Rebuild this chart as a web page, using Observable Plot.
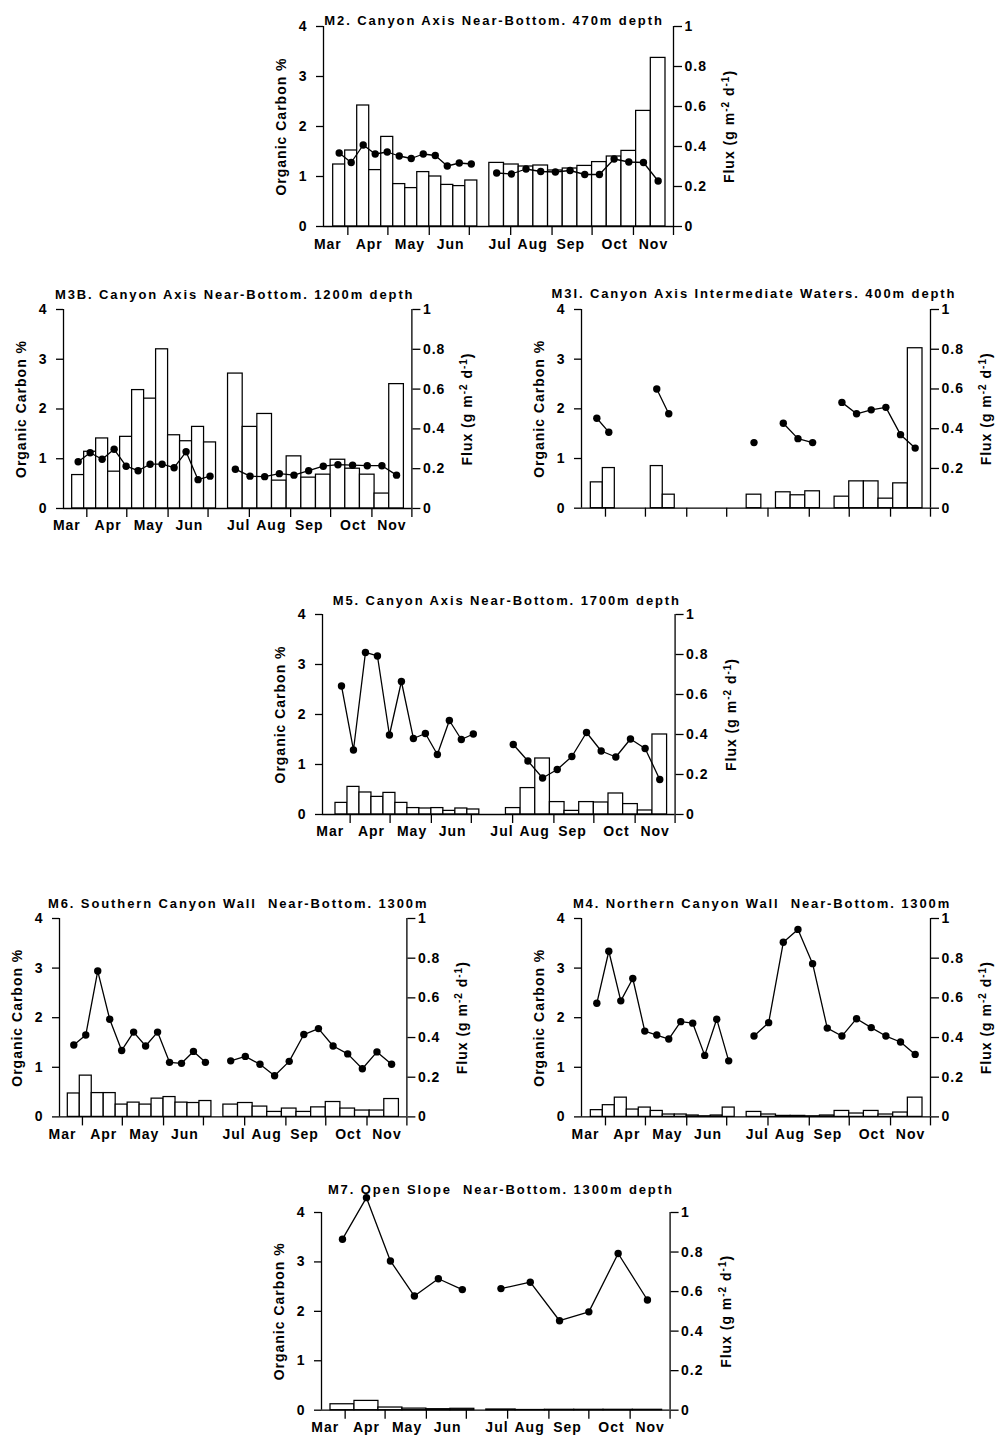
<!DOCTYPE html>
<html>
<head>
<meta charset="utf-8">
<script src="https://cdn.jsdelivr.net/npm/d3@7"></script>
<script src="https://cdn.jsdelivr.net/npm/@observablehq/plot@0.6"></script>
<style>
  body { margin: 0; background: #fff; }
  #wrap { position: relative; width: 996px; height: 1446px; overflow: hidden; background: #fff; }
  #wrap svg { position: absolute; }
</style>
</head>
<body>
<div id="wrap"></div>
<script>
// ---------- shared axis definitions ----------
const RATIO = 4;                       // Organic Carbon % axis max / Flux axis max
const ocTicks = [0, 1, 2, 3, 4];
const fluxTicks = [0, 0.2, 0.4, 0.6, 0.8, 1];
const monthStarts = [91, 121, 152, 182, 213, 244, 274, 305, 335];        // Julian day, Apr 1 .. Dec 1
const monthLabelDays = [76, 107, 137.5, 168, 205, 229.5, 258, 291, 320];  // where the month names sit (Julian day)
const monthNames = ["Mar", "Apr", "May", "Jun", "Jul", "Aug", "Sep", "Oct", "Nov"];
const leftLabel = "Organic Carbon %";
const fluxLabelParts = [["Flux (g m", false], ["-2", true], [" d", false], ["-1", true], [")", false]];

// ---------- sediment-trap cup schedules (Julian day) ----------
const cupStart = [80, 89, 98, 107, 116, 125, 134, 143, 152, 161, 170, 179,
                  197, 208, 219, 230, 241, 252, 263, 274, 285, 296, 307, 318];
const cupEnd   = [89, 98, 107, 116, 125, 134, 143, 152, 161, 170, 179, 188,
                  208, 219, 230, 241, 252, 263, 274, 285, 296, 307, 318, 329];
const cupStartM7 = [80, 98, 116, 134, 152, 170, 197, 219, 241, 263, 285, 307];
const cupEndM7   = [98, 116, 134, 152, 170, 188, 219, 241, 263, 285, 307, 329];

// ---------- M2 ----------
const fluxM2 = [0.31, 0.38, 0.605, 0.282, 0.448, 0.212, 0.192, 0.272, 0.25, 0.208, 0.202, 0.23,
                0.318, 0.31, 0.3, 0.305, 0.28, 0.29, 0.303, 0.322, 0.35, 0.378, 0.578, 0.843];
const ocM2 = [1.47, 1.28, 1.63, 1.45, 1.49, 1.41, 1.36, 1.45, 1.42, 1.21, 1.27, 1.25,
              1.07, 1.05, 1.15, 1.1, 1.09, 1.12, 1.04, 1.04, 1.35, 1.29, 1.28, 0.91];
// ---------- M3B ----------
const fluxM3B = [0.168, 0.285, 0.352, 0.185, 0.36, 0.595, 0.552, 0.8, 0.368, 0.338, 0.41, 0.332,
                 0.678, 0.41, 0.475, 0.14, 0.262, 0.155, 0.17, 0.245, 0.2, 0.17, 0.075, 0.625];
const ocM3B = [0.94, 1.12, 0.99, 1.19, 0.85, 0.76, 0.89, 0.89, 0.82, 1.14, 0.58, 0.65,
               0.79, 0.65, 0.64, 0.7, 0.67, 0.76, 0.85, 0.88, 0.87, 0.86, 0.86, 0.67];
// ---------- M3I ----------
const fluxM3I = [0.13, 0.202, null, null, null, 0.212, 0.068, null, null, null, null, null,
                 0.068, null, 0.08, 0.065, 0.085, null, 0.058, 0.135, 0.135, 0.048, 0.125, 0.805];
const ocM3I = [1.81, 1.53, null, null, null, 2.4, 1.9, null, null, null, null, null,
               1.32, null, 1.71, 1.4, 1.32, null, 2.13, 1.9, 1.98, 2.03, 1.48, 1.21];
// ---------- M5 ----------
const fluxM5 = [0.058, 0.138, 0.11, 0.088, 0.108, 0.058, 0.032, 0.03, 0.032, 0.018, 0.03, 0.025,
                null, 0.032, 0.132, 0.28, 0.062, 0.018, 0.062, 0.06, 0.105, 0.052, 0.02, 0.4];
const ocM5 = [2.57, 1.29, 3.24, 3.17, 1.59, 2.66, 1.52, 1.62, 1.2, 1.88, 1.5, 1.61,
              null, 1.4, 1.07, 0.73, 0.9, 1.16, 1.64, 1.27, 1.15, 1.51, 1.32, 0.7];
// ---------- M6 ----------
const fluxM6 = [0.118, 0.208, 0.12, 0.12, 0.062, 0.072, 0.062, 0.092, 0.1, 0.072, 0.07, 0.08,
                0.062, 0.07, 0.052, 0.025, 0.042, 0.025, 0.048, 0.075, 0.042, 0.032, 0.032, 0.09];
const ocM6 = [1.45, 1.65, 2.94, 1.97, 1.34, 1.71, 1.43, 1.71, 1.1, 1.08, 1.32, 1.1,
              1.13, 1.22, 1.06, 0.83, 1.12, 1.66, 1.78, 1.43, 1.27, 0.97, 1.31, 1.06];
// ---------- M4 ----------
const fluxM4 = [0.034, 0.059, 0.097, 0.037, 0.047, 0.03, 0.012, 0.012, 0.007, 0.003, 0.007, 0.047,
                0.025, 0.012, 0.005, 0.005, 0.003, 0.007, 0.03, 0.017, 0.03, 0.012, 0.022, 0.097];
const ocM4 = [2.29, 3.34, 2.34, 2.79, 1.73, 1.65, 1.57, 1.92, 1.89, 1.24, 1.97, 1.13,
              1.63, 1.9, 3.52, 3.78, 3.09, 1.79, 1.63, 1.98, 1.8, 1.63, 1.51, 1.26];
// ---------- M7 ----------
const fluxM7 = [0.03, 0.047, 0.0135, 0.008, 0.005, 0.007, 0.0035, 0.001, 0.002, 0.002, 0.002, 0.002];
const ocM7 = [3.46, 4.30, 3.02, 2.31, 2.66, 2.44, 2.46, 2.59, 1.81, 1.99, 3.17, 2.23];

// ---------- panel layout ----------
const panels = [
  {title: "M2. Canyon Axis Near-Bottom. 470m depth", L: 323.3, R: 673.3, T: 26, B: 226, x0: 72.75,
   tdy: 10.5, tdx: -4.5, months: true, start: cupStart, end: cupEnd, flux: fluxM2, oc: ocM2},
  {title: "M3B. Canyon Axis Near-Bottom. 1200m depth", L: 63.3, R: 411.7, T: 309.3, B: 508.3, x0: 73.5,
   tdy: 20, tdx: -3, months: true, start: cupStart, end: cupEnd, flux: fluxM3B, oc: ocM3B},
  {title: "M3I. Canyon Axis Intermediate Waters. 400m depth", L: 581, R: 930, T: 309, B: 507.7, x0: 73,
   tdy: 21, tdx: -2, months: false, start: cupStart, end: cupEnd, flux: fluxM3I, oc: ocM3I},
  {title: "M5. Canyon Axis Near-Bottom. 1700m depth", L: 321.7, R: 674.3, T: 614.3, B: 814.3, x0: 70.25,
   tdy: 19, tdx: 8, months: true, start: cupStart, end: cupEnd, flux: fluxM5, oc: ocM5},
  {title: "M6. Southern Canyon Wall  Near-Bottom. 1300m", L: 59.3, R: 406.7, T: 918.3, B: 1116.7, x0: 73.75,
   tdy: 20, tdx: 5, months: true, start: cupStart, end: cupEnd, flux: fluxM6, oc: ocM6},
  {title: "M4. Northern Canyon Wall  Near-Bottom. 1300m", L: 581, R: 930, T: 918.3, B: 1116.7, x0: 73,
   tdy: 20, tdx: 6, months: true, start: cupStart, end: cupEnd, flux: fluxM4, oc: ocM4},
  {title: "M7. Open Slope  Near-Bottom. 1300m depth", L: 320.7, R: 669.3, T: 1212.3, B: 1410, x0: 73.25,
   tdy: 28, tdx: 5, months: true, start: cupStartM7, end: cupEndM7, flux: fluxM7, oc: ocM7}
];

const wrap = document.getElementById("wrap");
const svgNS = "http://www.w3.org/2000/svg";
const ml = 72, mr = 82, mt = 40, mb = 42;
const xEnd = monthStarts[monthStarts.length - 1];

for (const p of panels) {
  let dep = 0;
  const rows = p.start.map((s, i) => {
    if (i > 0 && s !== p.end[i - 1]) dep++;
    return {s, e: p.end[i], mid: (s + p.end[i]) / 2, flux: p.flux[i], oc: p.oc[i], dep};
  });
  const W = (p.R - p.L) + ml + mr;
  const H = (p.B - p.T) + mt + mb;
  const marks = [
    Plot.rect(rows.filter(d => d.flux != null), {
      x1: "s", x2: "e", y1: 0, y2: d => d.flux * RATIO,
      fill: "white", stroke: "black", strokeWidth: 1.25
    }),
    Plot.ruleY([0], {stroke: "black", strokeWidth: 1.3}),
    Plot.ruleX([p.x0, xEnd], {stroke: "black", strokeWidth: 1.3}),
    Plot.axisY({anchor: "left", ticks: ocTicks, tickSize: 7, tickPadding: 9, tickFormat: d => String(d),
                label: null, strokeWidth: 1.3}),
    Plot.axisY({anchor: "right", ticks: fluxTicks.map(t => t * RATIO), tickSize: 8, tickPadding: 3,
                tickFormat: v => String(+(v / RATIO).toFixed(2)), label: null, strokeWidth: 1.3}),
    Plot.axisX({ticks: monthStarts, tickSize: 9, tickFormat: () => "", label: null, strokeWidth: 1.3}),
    Plot.line(rows, {x: "mid", y: "oc", z: "dep", stroke: "black", strokeWidth: 1.3}),
    Plot.dot(rows.filter(d => d.oc != null), {x: "mid", y: "oc", r: 3.7, fill: "black", stroke: "none"}),
    Plot.text([leftLabel], {frameAnchor: "left", textAnchor: "middle", dx: -42, rotate: -90, text: d => d}),
    Plot.text(["FLUXLABEL"], {frameAnchor: "right", textAnchor: "middle", dx: 56, rotate: -90, text: d => d}),
    Plot.text([p.title], {frameAnchor: "top", textAnchor: "middle", dy: -p.tdy, dx: p.tdx, fontSize: 13, text: d => d})
  ];
  if (p.months) {
    marks.push(Plot.text(monthLabelDays, {x: d => d, text: (d, i) => monthNames[i], frameAnchor: "bottom", dy: 22}));
  }
  const chart = Plot.plot({
    width: W, height: H,
    marginLeft: ml, marginRight: mr, marginTop: mt, marginBottom: mb,
    x: {domain: [p.x0, xEnd], axis: null},
    y: {domain: [0, 4], axis: null},
    style: "font-family: 'Liberation Sans', Arial, Helvetica, sans-serif; font-size: 14px; font-weight: bold; letter-spacing: 1px; color: black; background: transparent; overflow: visible;",
    marks
  });
  chart.style.left = (p.L - ml) + "px";
  chart.style.top = (p.T - mt) + "px";
  chart.style.maxWidth = "none";
  // title letter spacing and superscripted flux label
  d3.select(chart).selectAll("text").each(function () {
    if (this.textContent === p.title) {
      this.style.letterSpacing = "1.9px";
    } else if (this.textContent === "FLUXLABEL") {
      this.textContent = "";
      let sup = false;
      for (const [t, s] of fluxLabelParts) {
        const ts = document.createElementNS(svgNS, "tspan");
        ts.textContent = t;
        if (s !== sup) ts.setAttribute("dy", s ? "-5" : "5");
        if (s) ts.setAttribute("font-size", "10");
        this.appendChild(ts);
        sup = s;
      }
    }
  });
  wrap.appendChild(chart);
}
</script>
</body>
</html>
